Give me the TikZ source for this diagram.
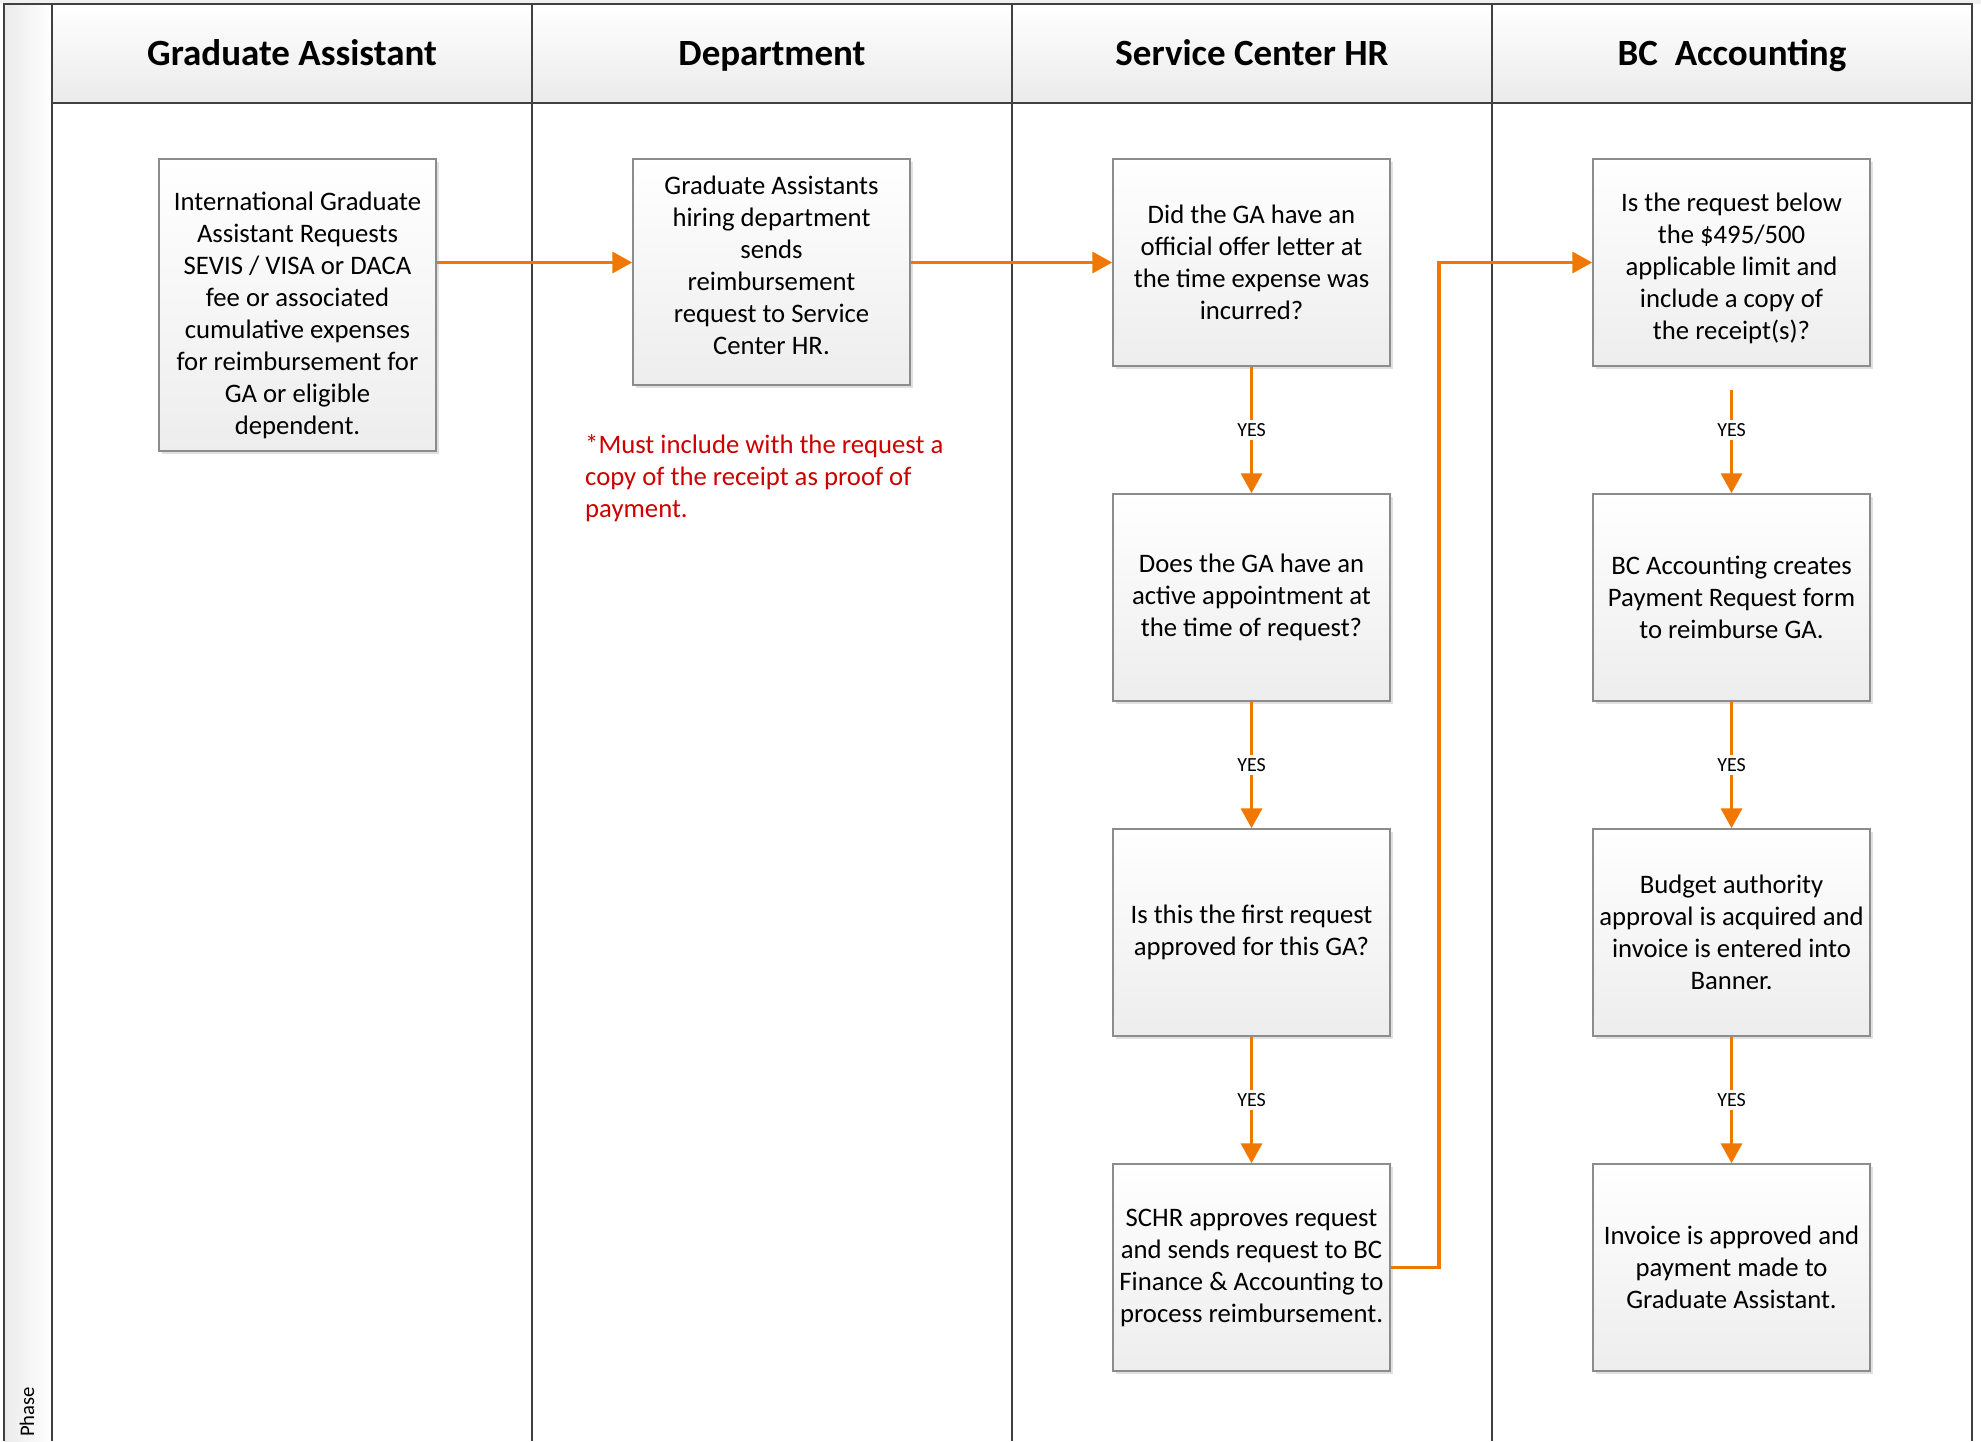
\documentclass[tikz,border=0pt]{standalone}
\usepackage{fontspec}
\setmainfont{Carlito}
\usetikzlibrary{arrows.meta,shadows}

\definecolor{flow}{RGB}{240,120,0}
\definecolor{lane}{RGB}{64,64,64}
\definecolor{boxline}{RGB}{140,140,140}
\definecolor{note}{RGB}{204,0,0}

\begin{document}
\begin{tikzpicture}[x=1pt,y=-1pt,
  stepbox/.style={draw=boxline, line width=1.5pt, top color=white, bottom color=black!7,
    minimum width=277pt, minimum height=207pt, align=center, inner sep=4pt,
    font=\fontsize{26.7}{32}\selectfont,
    drop shadow={shadow xshift=3pt, shadow yshift=-3pt, fill=black!12, opacity=1}},
  flowline/.style={draw=flow, line width=3.5pt, -{Triangle[length=20pt,width=21pt]}},
  yes/.style={fill=white, font=\fontsize{20}{22}\selectfont, inner sep=3pt},
  lanehead/.style={font=\bfseries\fontsize{37}{40}\selectfont, inner sep=0pt, anchor=base},
  laneline/.style={draw=lane, line width=2.5pt},
]
\useasboundingbox (0,0) rectangle (1981,1441);
\fill[white] (0,0) rectangle (1981,1441);
\fill[black!6] (0,0) rectangle (1981,4);

% header and phase strip
\shade[top color=white, bottom color=black!8] (52,4) rectangle (1972,103);
\shade[left color=black!8, right color=white] (4,4) rectangle (52,1441);

\draw[laneline] (4,1441) -- (4,4) -- (1972,4) -- (1972,1441);
\foreach \x in {52,532,1012,1492} \draw[laneline] (\x,4) -- (\x,1441);
\draw[laneline] (52,103) -- (1972,103);

\node[lanehead] (h1) at (292,65) {Graduate Assistant};
\node[lanehead] (h2) at (772,65) {Department};
\node[lanehead] (h3) at (1252,65) {Service Center HR};
\node[lanehead] (h4) at (1732,65) {BC~~Accounting};

\node[rotate=90, anchor=west, inner sep=0pt, font=\fontsize{20.7}{22}\selectfont] (phase) at (27,1437) {Phase};

% boxes
\node[stepbox, minimum height=292pt] (ga) at (297.5,305) {\rule{0pt}{39pt}International Graduate\\Assistant Requests\\SEVIS / VISA or DACA\\fee or associated\\cumulative expenses\\for reimbursement for\\GA or eligible\\dependent.};
\node[stepbox, minimum height=226pt] (dept) at (771.5,272) {Graduate Assistants\\hiring department\\sends\\reimbursement\\request to Service\\Center HR.\rule[-13pt]{0pt}{13pt}};

\node[stepbox] (s1) at (1251.5,262.5) {Did the GA have an\\official offer letter at\\the time expense was\\incurred?};
\node[stepbox] (s2) at (1251.5,597.5) {Does the GA have an\\active appointment at\\the time of request?};
\node[stepbox] (s3) at (1251.5,932.5) {Is this the first request\\approved for this GA?};
\node[stepbox] (s4) at (1251.5,1267.5) {SCHR approves request\\and sends request to BC\\Finance \& Accounting to\\process reimbursement.};

\node[stepbox] (b1) at (1731.5,262.5) {\rule{0pt}{31pt}Is the request below\\the \$495/500\\applicable limit and\\include a copy of\\the receipt(s)?};
\node[stepbox] (b2) at (1731.5,597.5) {BC Accounting creates\\Payment Request form\\to reimburse GA.};
\node[stepbox] (b3) at (1731.5,932.5) {Budget authority\\approval is acquired and\\invoice is entered into\\Banner.};
\node[stepbox] (b4) at (1731.5,1267.5) {Invoice is approved and\\payment made to\\Graduate Assistant.};

\node[anchor=west, align=left, inner sep=0pt, text=note, font=\fontsize{26.7}{32}\selectfont] (note) at (585,478) {*Must include with the request a\\copy of the receipt as proof of\\payment.};

% connectors
\draw[flowline] (ga.east |- s1.west) -- (dept.west |- s1.west);
\draw[flowline] (dept.east |- s1.west) -- (s1.west);
\draw[flowline] (s1.south) -- node[yes] {YES} (s2.north);
\draw[flowline] (s2.south) -- node[yes] {YES} (s3.north);
\draw[flowline] (s3.south) -- node[yes] {YES} (s4.north);
\draw[flowline] (s4.east) -- ++(48,0) |- (b1.west);
\draw[flowline, shorten <=23pt] (b1.south) -- node[yes] {YES} (b2.north);
\draw[flowline] (b2.south) -- node[yes] {YES} (b3.north);
\draw[flowline] (b3.south) -- node[yes] {YES} (b4.north);
\end{tikzpicture}
\end{document}
